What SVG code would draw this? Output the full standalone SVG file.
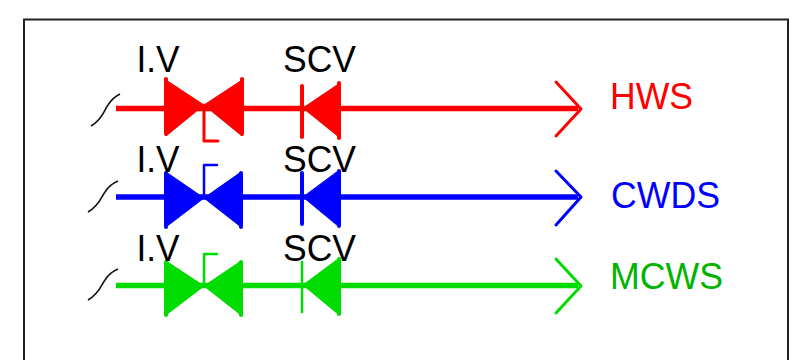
<svg xmlns="http://www.w3.org/2000/svg" width="796" height="360" viewBox="0 0 796 360">
<style>
text{font-family:"Liberation Sans",Arial,sans-serif;font-size:36px}
.k{fill:#000}
.sq{fill:none;stroke:#111;stroke-width:1.600}
.red{stroke:#f00;fill:#f00}.blue{stroke:#00f;fill:#00f}.green{stroke:#00dc00;fill:#00dc00}
.pipe{fill:none;stroke-width:5.500}
.bar{stroke-width:4;stroke-linecap:round;fill:none}
.thin{fill:none;stroke-width:3;stroke-linecap:round;stroke-linejoin:round}
.tri{stroke-width:1;stroke-linejoin:round}
</style>
<path d="M24 360V19.500H788V360" fill="none" stroke="#222" stroke-width="2"/>
<g id="connectors">
<path class="sq" d="M91 126C103 119 104 110 108 105C111 100 114 97 120 94"/>
<path class="sq" d="M88 212C100 205 101 197 105 192C108 187 111 184 118 181"/>
<path class="sq" d="M88 300C100 293 101 285 105 280C108 275 111 272 118 269"/>
<path class="pipe red" d="M116 108.500H578"/>
<path class="pipe blue" d="M116 197H578"/>
<path class="pipe green" d="M116 285.500H578"/>
<path class="thin red" d="M556 82L581 109L556 136"/>
<path class="thin blue" d="M556 171L581 197L556 225"/>
<path class="thin green" d="M556 259L581 286L556 313"/>
</g>
<g id="iv-hws" class="red">
<path class="tri" d="M166 80L204 105L166 136Z"/><path class="tri" d="M242 80L204 105L242 136Z"/>
<path class="bar" d="M166 79V134M242 79V134"/>
<path class="thin" d="M204 105V141H218"/>
</g>
<g id="scv-hws" class="red">
<path class="bar" d="M302 86V137"/>
<path class="tri" d="M340 83L303 108L340 138Z"/><path class="bar" d="M339 83V138"/>
</g>
<g id="iv-cwds" class="blue">
<path class="tri" d="M166 172L204 198L166 227Z"/><path class="tri" d="M241 172L204 198L241 227Z"/>
<path class="bar" d="M166 173V227M241 173V227"/>
<path class="thin" style="stroke-width:2.500" d="M204 198V165H217"/>
</g>
<g id="scv-cwds" class="blue">
<path class="bar" d="M302 173V224"/>
<path class="tri" d="M338 171L303 197L338 226Z"/><path class="bar" d="M339 171V226"/>
</g>
<g id="iv-mcws" class="green">
<path class="tri" d="M166 261L204 286L166 315Z"/><path class="tri" d="M241 261L204 286L241 315Z"/>
<path class="bar" d="M166 262V315M241 262V315"/>
<path class="thin" style="stroke-width:2.500" d="M204 286V254H217"/>
</g>
<g id="scv-mcws" class="green">
<path class="bar" style="stroke-width:2.500" d="M302 262V312"/>
<path class="tri" d="M338 259L303 285L338 314Z"/><path class="bar" d="M339 259V314"/>
</g>
<g id="labels">
<text class="k" x="136.500" y="72" textLength="43" lengthAdjust="spacingAndGlyphs">I.V</text>
<text class="k" x="283" y="72" textLength="73" lengthAdjust="spacingAndGlyphs">SCV</text>
<text class="k" x="136.500" y="172" textLength="43" lengthAdjust="spacingAndGlyphs">I.V</text>
<text class="k" x="283" y="172" textLength="73" lengthAdjust="spacingAndGlyphs">SCV</text>
<text class="k" x="136.500" y="261" textLength="43" lengthAdjust="spacingAndGlyphs">I.V</text>
<text class="k" x="283" y="261" textLength="73" lengthAdjust="spacingAndGlyphs">SCV</text>
<text x="610" y="109" fill="#f00" textLength="83" lengthAdjust="spacingAndGlyphs">HWS</text>
<text x="611" y="208" fill="#00f" textLength="109" lengthAdjust="spacingAndGlyphs">CWDS</text>
<text x="610" y="289" fill="#00b400" textLength="113" lengthAdjust="spacingAndGlyphs">MCWS</text>
</g>
</svg>
